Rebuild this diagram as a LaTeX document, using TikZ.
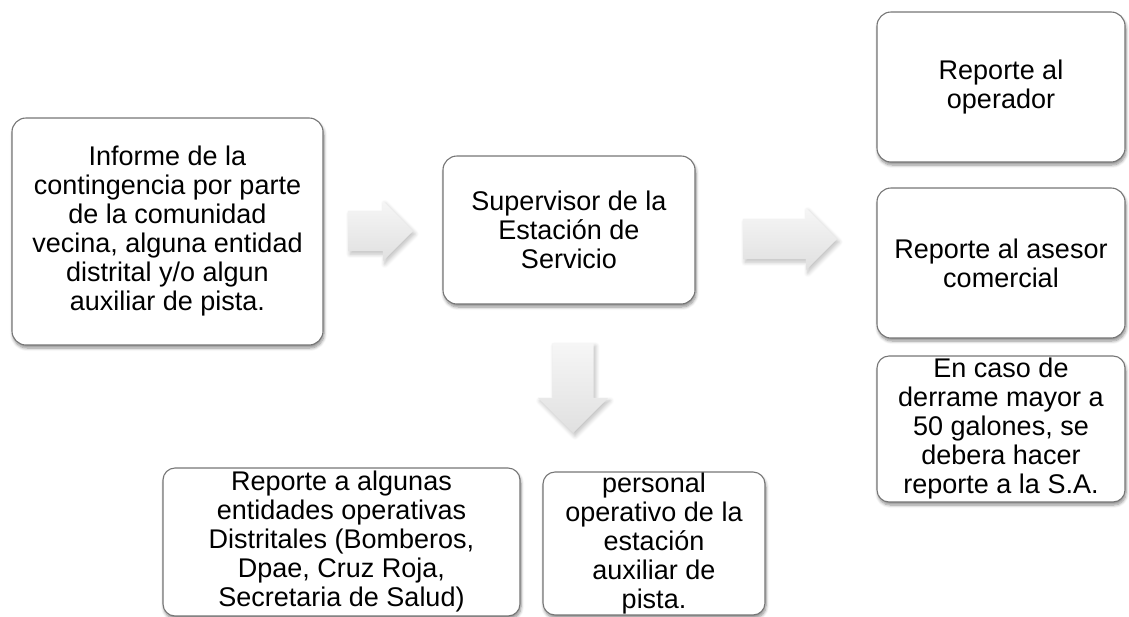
\documentclass[tikz,border=0pt]{standalone}
\usepackage{fontspec}
\setmainfont{Liberation Sans}
\usetikzlibrary{shapes.arrows,shadows.blur}
\definecolor{boxgray}{RGB}{118,118,118}
\definecolor{arrowlight}{RGB}{246,246,246}
\definecolor{arrowdark}{RGB}{224,224,224}

\begin{document}
\begin{tikzpicture}[x=1pt,y=-1pt,
  box/.style={draw=boxgray, line width=1.1pt, fill=white, rounded corners=14pt,
    align=center, inner sep=0pt, outer sep=0pt, font=\fontsize{27}{29}\selectfont,
    blur shadow={shadow xshift=1pt, shadow yshift=-3pt, shadow blur radius=3pt,
      shadow blur steps=6, shadow opacity=45}},
  blockarrow/.style={single arrow, draw=none, top color=arrowlight, bottom color=arrowdark,
    inner xsep=0pt, inner ysep=20pt, outer sep=0pt, minimum width=0pt, anchor=tail,
    blur shadow={shadow xshift=2pt, shadow yshift=-3pt, shadow blur radius=4pt,
      shadow blur steps=6, shadow opacity=25}}]

\useasboundingbox (0,0) rectangle (1129,616);

\node[box, minimum width=311pt, minimum height=227pt] (inf) at (167.5,231.5)
  {Informe de la\\contingencia por parte\\de la comunidad\\vecina, alguna entidad\\distrital y/o algun\\auxiliar de pista.};
\node[box, minimum width=252pt, minimum height=148pt] (sup) at (569,230)
  {Supervisor de la\\Estación de\\Servicio};

\node[box, minimum width=248pt, minimum height=150pt] (ope) at (1001,87)
  {Reporte al\\operador};
\node[box, minimum width=248pt, minimum height=150pt] (ase) at (1001,263)
  {Reporte al asesor\\comercial};
\node[box, minimum width=248pt, minimum height=146pt, rounded corners=12pt] (der) at (1001,429)
  {En caso de\\derrame mayor a\\50 galones, se\\debera hacer\\reporte a la S.A.};

\node[box, minimum width=357pt, minimum height=148pt, rounded corners=12pt] (ent) at (341.5,542)
  {Reporte a algunas\\entidades operativas\\Distritales (Bomberos,\\Dpae, Cruz Roja,\\Secretaria de Salud)};
\node[box, minimum width=222pt, minimum height=143pt, rounded corners=12pt] (per) at (654,543.5)
  {personal\\operativo de la\\estación\\auxiliar de\\pista.};

\node[blockarrow, minimum height=65pt, single arrow head extend=10pt] (ar1) at (348,231) {};
\node[blockarrow, minimum height=94pt, single arrow head extend=11pt] (ar2) at (743,239) {};
\node[blockarrow, rotate=-90, minimum height=90pt, inner ysep=20.5pt,
  single arrow head extend=14.5pt] (ar3) at (573,343) {};

\end{tikzpicture}
\end{document}
